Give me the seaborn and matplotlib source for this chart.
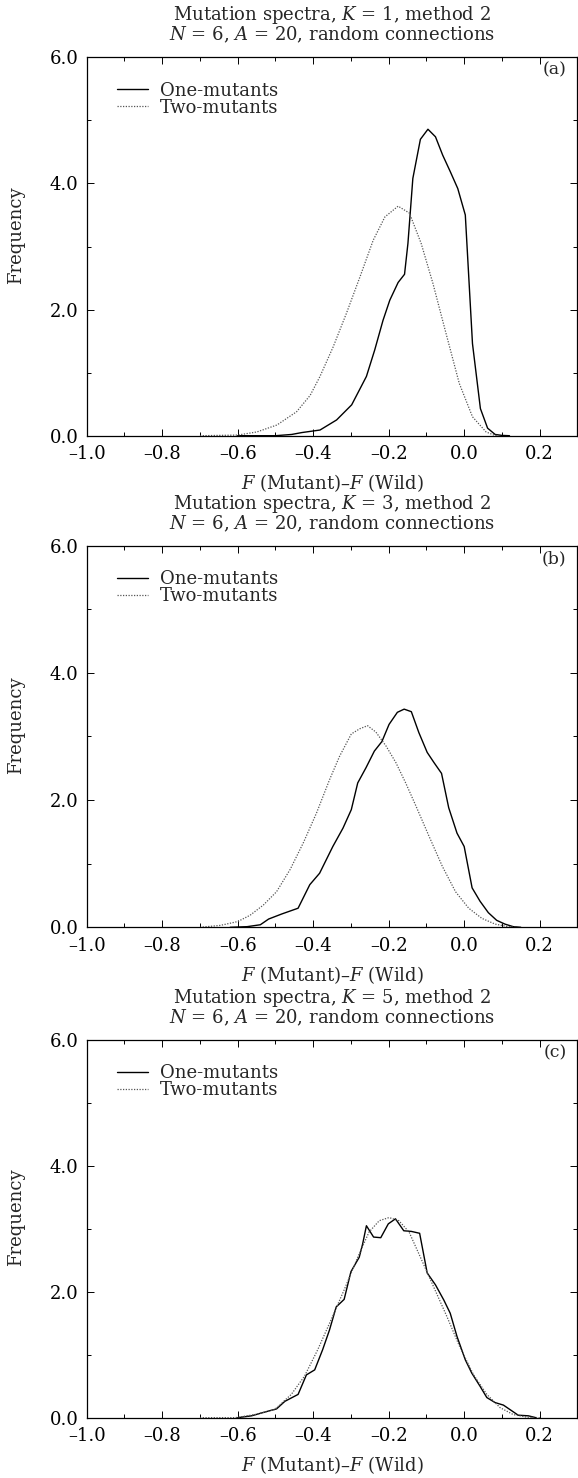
import numpy as np
import pandas as pd
import matplotlib
matplotlib.use("Agg")
import matplotlib.pyplot as plt
from matplotlib.ticker import MultipleLocator, FuncFormatter
import seaborn as sns

# panel (a): K = 1
a_one_x = [-0.60, -0.50, -0.457, -0.43, -0.382, -0.338, -0.298, -0.259, -0.237, -0.215, -0.197,
           -0.175, -0.158, -0.149, -0.136, -0.116, -0.096, -0.076, -0.057, -0.037, -0.017,
           0.003, 0.022, 0.043, 0.062, 0.082, 0.10, 0.12]
a_one_y = [0.0, 0.0, 0.02, 0.05, 0.09, 0.25, 0.49, 0.94, 1.36, 1.83, 2.15,
           2.43, 2.56, 3.05, 4.08, 4.70, 4.86, 4.74, 4.45, 4.19, 3.92,
           3.50, 1.46, 0.43, 0.12, 0.02, 0.005, 0.0]
a_two_x = [-0.70, -0.60, -0.549, -0.496, -0.444, -0.408, -0.382, -0.347, -0.312, -0.276, -0.241,
           -0.21, -0.175, -0.145, -0.114, -0.083, -0.048, -0.013, 0.022, 0.058, 0.079, 0.09]
a_two_y = [0.0, 0.01, 0.06, 0.17, 0.38, 0.64, 0.94, 1.41, 1.94, 2.52, 3.10,
           3.47, 3.64, 3.53, 3.05, 2.42, 1.62, 0.83, 0.30, 0.06, 0.01, 0.0]

# panel (b): K = 3
b_one_x = [-0.62, -0.575, -0.54, -0.518, -0.483, -0.44, -0.409, -0.383, -0.348, -0.321, -0.299,
           -0.282, -0.26, -0.238, -0.218, -0.199, -0.177, -0.159, -0.14, -0.12, -0.098,
           -0.08, -0.06, -0.041, -0.019, 0.0, 0.021, 0.042, 0.064, 0.086, 0.108, 0.13, 0.15]
b_one_y = [0.0, 0.01, 0.04, 0.13, 0.21, 0.30, 0.67, 0.85, 1.27, 1.56, 1.85,
           2.27, 2.51, 2.77, 2.92, 3.19, 3.38, 3.43, 3.39, 3.06, 2.75,
           2.59, 2.42, 1.88, 1.48, 1.27, 0.62, 0.41, 0.23, 0.11, 0.05, 0.01, 0.0]
b_two_x = [-0.70, -0.646, -0.60, -0.567, -0.532, -0.497, -0.461, -0.426, -0.391, -0.356, -0.33,
           -0.299, -0.277, -0.256, -0.234, -0.207, -0.181, -0.155, -0.128, -0.093, -0.058,
           -0.023, 0.012, 0.047, 0.082, 0.117, 0.14]
b_two_y = [0.0, 0.03, 0.09, 0.19, 0.35, 0.56, 0.91, 1.33, 1.80, 2.33, 2.69,
           3.04, 3.12, 3.17, 3.07, 2.85, 2.59, 2.27, 1.91, 1.43, 0.96,
           0.56, 0.30, 0.14, 0.05, 0.01, 0.0]

# panel (c): K = 5
c_one_x = [-0.60, -0.563, -0.528, -0.497, -0.475, -0.44, -0.418, -0.396, -0.375, -0.357, -0.339,
           -0.318, -0.30, -0.278, -0.269, -0.259, -0.24, -0.221, -0.201, -0.182, -0.16,
           -0.14, -0.118, -0.098, -0.076, -0.054, -0.037, -0.019, 0.003, 0.02, 0.042,
           0.06, 0.082, 0.104, 0.126, 0.143, 0.17, 0.19]
c_one_y = [0.0, 0.03, 0.09, 0.14, 0.26, 0.37, 0.68, 0.76, 1.08, 1.39, 1.76,
           1.88, 2.32, 2.55, 2.76, 3.05, 2.87, 2.86, 3.08, 3.16, 2.97,
           2.96, 2.93, 2.30, 2.11, 1.87, 1.66, 1.29, 0.92, 0.71, 0.50,
           0.32, 0.24, 0.20, 0.11, 0.04, 0.03, 0.0]
c_two_x = [-0.70, -0.607, -0.554, -0.502, -0.458, -0.423, -0.388, -0.353, -0.318, -0.282, -0.252,
           -0.225, -0.199, -0.173, -0.146, -0.116, -0.081, -0.046, -0.012, 0.025, 0.06,
           0.095, 0.13, 0.165, 0.20]
c_two_y = [0.0, 0.0, 0.05, 0.13, 0.37, 0.66, 1.08, 1.55, 2.03, 2.55, 2.95,
           3.13, 3.18, 3.13, 2.95, 2.55, 2.08, 1.61, 1.13, 0.68, 0.37,
           0.16, 0.05, 0.01, 0.0]

panels = [
    ("1", "(a)", a_one_x, a_one_y, a_two_x, a_two_y),
    ("3", "(b)", b_one_x, b_one_y, b_two_x, b_two_y),
    ("5", "(c)", c_one_x, c_one_y, c_two_x, c_two_y),
]


def fmt(v, pos):
    if abs(v) < 1e-9:
        v = 0.0
    return f"{v:.1f}".replace("-", "\u2013")


sns.set_style("ticks")
plt.rcParams['font.family'] = ['DejaVu Serif']
plt.rcParams['mathtext.fontset'] = 'dejavuserif'

fig = plt.figure(figsize=(5.78, 14.78), dpi=100)
boxes = [(0.150, 0.7052, 0.849, 0.2560),
         (0.150, 0.3726, 0.849, 0.2582),
         (0.150, 0.0408, 0.849, 0.2555)]

for (k, tag, ox, oy, tx, ty), box in zip(panels, boxes):
    ax = fig.add_axes(box)
    df_one = pd.DataFrame({"x": ox, "y": oy})
    df_two = pd.DataFrame({"x": tx, "y": ty})
    sns.lineplot(data=df_one, x="x", y="y", ax=ax, color="black", lw=1.0,
                 label="One-mutants", sort=False)
    sns.lineplot(data=df_two, x="x", y="y", ax=ax, color="#555555", lw=0.9,
                 linestyle=(0, (1, 1.2)), label="Two-mutants", sort=False)

    ax.set_xlim(-1.0, 0.3)
    ax.set_ylim(0, 6.0)
    ax.xaxis.set_major_locator(MultipleLocator(0.2))
    ax.xaxis.set_minor_locator(MultipleLocator(0.1))
    ax.yaxis.set_major_locator(MultipleLocator(2.0))
    ax.yaxis.set_minor_locator(MultipleLocator(1.0))
    ax.xaxis.set_major_formatter(FuncFormatter(fmt))
    ax.yaxis.set_major_formatter(FuncFormatter(fmt))
    ax.tick_params(which='both', direction='in', top=True, right=True,
                   labelsize=13, width=0.7, colors='black')
    ax.tick_params(which='major', length=5)
    ax.tick_params(which='minor', length=3)
    ax.tick_params(axis='x', which='major', pad=7)
    ax.tick_params(axis='y', which='major', pad=6)
    for s in ax.spines.values():
        s.set_linewidth(0.9)
        s.set_color('black')

    ax.set_title("Mutation spectra, $K$ = " + k + ", method 2\n"
                 "$N$ = 6, $A$ = 20, random connections",
                 fontsize=13, linespacing=0.92, pad=12)
    ax.set_xlabel("$F$ (Mutant)–$F$ (Wild)", fontsize=13)
    ax.xaxis.set_label_coords(0.5, -0.097)
    ax.set_ylabel("Frequency", fontsize=13)
    ax.yaxis.set_label_coords(-0.125, 0.53)

    ax.legend(loc='upper left', bbox_to_anchor=(0.062, 0.936), frameon=False,
              fontsize=13, handlelength=1.7, handletextpad=0.65,
              labelspacing=-0.05, borderpad=0, borderaxespad=0)
    ax.text(0.978, 0.966, tag, transform=ax.transAxes, ha='right', va='center',
            fontsize=12.5)

fig.savefig("out.png", dpi=100)
